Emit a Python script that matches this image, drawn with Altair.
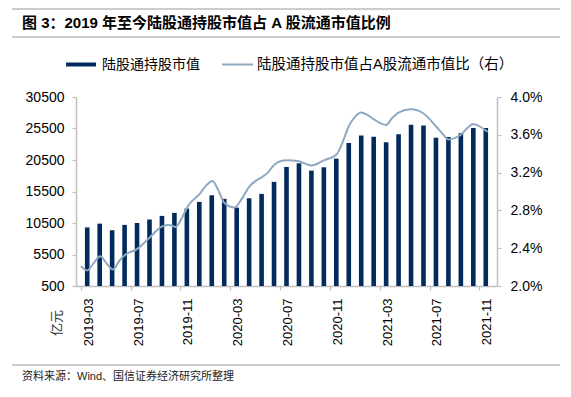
import json
import altair as alt
import pandas as pd

# ---------------- data ----------------
months = [
    "2019-03", "2019-04", "2019-05", "2019-06", "2019-07", "2019-08", "2019-09", "2019-10",
    "2019-11", "2019-12", "2020-01", "2020-02", "2020-03", "2020-04", "2020-05", "2020-06",
    "2020-07", "2020-08", "2020-09", "2020-10", "2020-11", "2020-12", "2021-01", "2021-02",
    "2021-03", "2021-04", "2021-05", "2021-06", "2021-07", "2021-08", "2021-09", "2021-10",
    "2021-11",
]
market_value = [
    9800, 10400, 9350, 10200, 10500, 11050, 11630, 12100,
    12800, 13850, 14900, 14330, 12950, 14425, 15120, 17030,
    19400, 19980, 18820, 19340, 20720, 23210, 24370, 24210,
    23300, 24580, 26110, 25960, 24050, 24160, 24730, 25590,
    25590,
]
# ratio line (position in months from 2019-03, percent)
ratio_pos = [
    -0.5, 0.0, 0.5, 1.05, 1.5, 2.05, 2.6, 3.1, 4.0, 5.0, 6.0, 6.6, 7.1, 7.6, 8.1,
    9.0, 9.6, 10.05, 10.5, 11.0, 11.8, 12.4, 13.0, 13.5, 14.0, 14.5, 15.0, 15.5,
    16.0, 17.0, 18.0, 19.0, 20.0, 20.5, 21.0, 21.5, 22.0, 22.5, 23.0, 24.0, 24.5,
    25.0, 26.0, 27.0, 28.0, 28.6, 29.0, 29.5, 30.0, 30.5, 31.0, 31.5, 32.0, 32.15,
]
ratio_pct = [
    2.21, 2.165, 2.24, 2.315, 2.25, 2.175, 2.27, 2.335, 2.39, 2.51, 2.63, 2.645, 2.625, 2.72, 2.85,
    2.97, 3.07, 3.11, 3.02, 2.88, 2.83, 2.92, 3.05, 3.11, 3.15, 3.20, 3.28, 3.32,
    3.33, 3.32, 3.275, 3.33, 3.39, 3.52, 3.69, 3.79, 3.835, 3.81, 3.765, 3.705, 3.78,
    3.835, 3.87, 3.825, 3.69, 3.60, 3.55, 3.565, 3.60, 3.67, 3.715, 3.69, 3.645, 3.63,
]
left_ticks = [500, 5500, 10500, 15500, 20500, 25500, 30500]
right_ticks = [2.0, 2.4, 2.8, 3.2, 3.6, 4.0]
x_label_pos = [0, 4, 8, 12, 16, 20, 24, 28, 32]

title_text = "图 3：2019 年至今陆股通持股市值占 A 股流通市值比例"
legend_bar = "陆股通持股市值"
legend_line = "陆股通持股市值占A股流通市值比（右）"
source_text = "资料来源：Wind、国信证券经济研究所整理"
unit_text = "亿元"

# ---------------- chart ----------------
W, H = 421, 189
n = len(months)
half = W / n / 2
FONT = "Liberation Sans, Arial, Noto Sans CJK SC"
CJK = "Noto Sans CJK SC, Liberation Sans"
BAR_C = "#002B5C"
LINE_C = "#8FA9C2"
AX_C = "#BFBFBF"

bars_df = pd.DataFrame({"i": list(range(n)), "month": months, "v": market_value})
line_df = pd.DataFrame({"i": ratio_pos, "r": ratio_pct})
one = pd.DataFrame({"k": [0]})

x_scale = alt.Scale(domain=[-0.5, n - 0.5], nice=False, zero=False)
label_expr = json.dumps(months) + "[datum.value]"
x_axis = alt.Axis(
    values=x_label_pos, labelExpr=label_expr, labelAngle=270,
    labelAlign="right", labelBaseline="middle", title=None,
    tickOffset=-half, labelOffset=half + 1, labelFontSize=13,
    tickSize=4, labelPadding=8, labelOverlap=False)

bars = alt.Chart(bars_df).mark_bar(size=4.6, color=BAR_C).encode(
    x=alt.X("i:Q", scale=x_scale, axis=x_axis),
    y=alt.Y("v:Q", scale=alt.Scale(domain=[500, 30500], nice=False, zero=False),
            axis=alt.Axis(values=left_ticks, format="d", title=None,
                          labelFontSize=14, tickSize=4, labelPadding=8)),
    y2=alt.datum(500),
)

line = alt.Chart(line_df).mark_line(interpolate="monotone", color=LINE_C, strokeWidth=2).encode(
    x=alt.X("i:Q", scale=x_scale, axis=x_axis),
    y=alt.Y("r:Q", scale=alt.Scale(domain=[2.0, 4.0], nice=False, zero=False),
            axis=alt.Axis(orient="right", values=right_ticks, title=None,
                          labelExpr="format(datum.value, '.1f') + '%'",
                          labelFontSize=14, tickSize=4, labelPadding=9)),
)


def txt(x, y, s, size, weight="normal", angle=0, align="left", font=CJK, color="#000"):
    return alt.Chart(one).mark_text(
        text=s, fontSize=size, fontWeight=weight, angle=angle, align=align,
        baseline="middle", font=font, color=color,
    ).encode(x=alt.value(x), y=alt.value(y))


def hrule(x1, x2, y, color, width):
    return alt.Chart(one).mark_rule(color=color, strokeWidth=width).encode(
        x=alt.value(x1), x2=alt.value(x2), y=alt.value(y))


title = txt(-54, -74, title_text, 15, weight="bold", font=FONT)
top_rule = hrule(-64, 484, -88, "#9A9A9A", 1.2)
mid_rule = hrule(-64, 484, -60, "#9A9A9A", 1.2)
foot_rule = hrule(-64, 484, 268, "#9A9A9A", 1.2)
source = txt(-54, 280, source_text, 11, font=FONT, color="#222")
unit = txt(-19, 226, unit_text, 13, angle=270, align="center", color="#333")

leg_rect = alt.Chart(one).mark_rect(color=BAR_C).encode(
    x=alt.value(-10), x2=alt.value(20), y=alt.value(-34.5), y2=alt.value(-30.5))
leg_line = hrule(146, 177, -32.5, LINE_C, 2)
leg_t1 = txt(26, -32, legend_bar, 14)
leg_t2 = txt(181, -32, legend_line, 14.5, font=FONT)

chart = alt.layer(
    bars, line, title, top_rule, mid_rule, foot_rule, source, unit,
    leg_rect, leg_line, leg_t1, leg_t2,
).resolve_scale(y="independent").properties(
    width=W, height=H,
    padding={"left": 68, "top": 89, "right": 63, "bottom": 100},
    autosize=alt.AutoSizeParams(type="none"),
    background="white",
).configure_view(stroke=None).configure_axis(
    domainColor=AX_C, tickColor=AX_C, labelColor="#000", labelFont=FONT,
    grid=False, domainWidth=1.5, tickWidth=1.2,
)

chart.save("out.html", embed_options={"renderer": "svg", "actions": False})
